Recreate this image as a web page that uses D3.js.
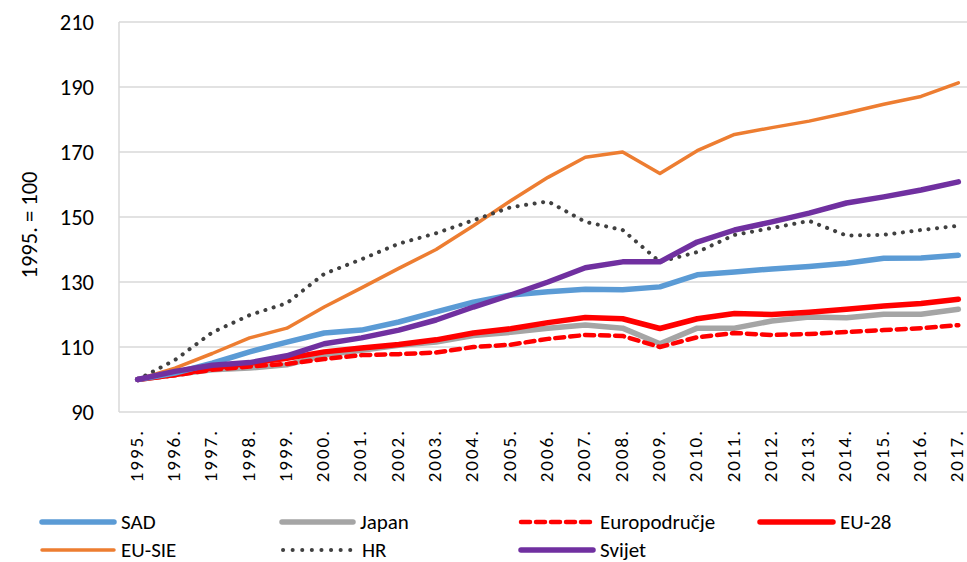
<!DOCTYPE html>
<html>
<head>
<meta charset="utf-8">
<script src="https://cdn.jsdelivr.net/npm/d3@7"></script>
<style>
  body { margin: 0; background: #fff; }
  svg { display: block; }
  text { font-family: Carlito, "Liberation Sans Narrow", "Open Sans", sans-serif; fill: #000; }
</style>
</head>
<body>
<div id="chart"></div>
<script>
let years = ['1995.','1996.','1997.','1998.','1999.','2000.','2001.','2002.','2003.','2004.','2005.','2006.',
             '2007.','2008.','2009.','2010.','2011.','2012.','2013.','2014.','2015.','2016.','2017.'];
let yTicks = [90, 110, 130, 150, 170, 190, 210];

let sad = [100,102,105,108.5,111.5,114.3,115.2,117.7,120.8,123.8,126,127,127.8,127.6,128.5,132.2,133.1,134,134.8,135.8,137.3,137.4,138.2];
let japan = [100,101.5,103,103.5,104.5,107.5,109,110.5,111.5,113.5,114.5,115.8,116.8,115.8,111,115.8,115.8,118,119.2,119,120.1,120.1,121.6];
let europodrucje = [100,101.3,103,104,104.8,106.3,107.5,107.8,108.3,110,110.7,112.5,113.7,113.4,110,113,114.3,113.7,114,114.6,115.2,115.8,116.7];
let eu28 = [100,101.5,103.5,105,106.5,108.5,109.7,110.8,112.2,114.3,115.6,117.5,119.1,118.7,115.7,118.7,120.3,120,120.7,121.6,122.6,123.4,124.7];
let euSie = [100,103.5,108,112.8,115.8,122.3,128.2,134.2,140,147.3,155,162.2,168.4,170,163.4,170.4,175.4,177.5,179.5,182,184.7,187.1,191.3];
let hr = [100,106,114.5,119.8,123.5,132.5,137,141.8,145,149,153,154.8,148.5,146,136.2,139.2,144.5,146.6,148.8,144.3,144.5,146,147.3];
let svijet = [100,102.5,104.4,105.2,107.3,111,112.8,115.2,118.3,122.3,126,130,134.4,136.2,136.2,142.3,146,148.5,151.2,154.3,156.2,158.3,160.8];

let series = [
    {name: 'SAD', values: sad, color: '#5B9BD5', width: 5.5, dash: null},
    {name: 'Japan', values: japan, color: '#A5A5A5', width: 5.5, dash: null},
    {name: 'Europodručje', values: europodrucje, color: '#FF0000', width: 4.5, dash: '9,6'},
    {name: 'EU-28', values: eu28, color: '#FF0000', width: 5.5, dash: null},
    {name: 'EU-SIE', values: euSie, color: '#ED7D31', width: 3.5, dash: null},
    {name: 'HR', values: hr, color: '#404040', width: 4, dash: '0.1,8.5'},
    {name: 'Svijet', values: svijet, color: '#7030A0', width: 5.5, dash: null}
];
// draw order: bottom first
let drawOrder = ['Japan', 'Europodručje', 'EU-28', 'SAD', 'EU-SIE', 'HR', 'Svijet'];

let width = 967, height = 562;
let plotLeft = 119, plotRight = 977, plotTop = 22, plotBottom = 412;

let svg = d3.select('#chart').append('svg')
    .attr('width', width)
    .attr('height', height);

let x = d3.scalePoint().domain(years).range([plotLeft, plotRight]).padding(0.5);
let y = d3.scaleLinear().domain([90, 210]).range([plotBottom, plotTop]);

// gridlines
svg.append('g')
    .selectAll('line')
    .data(yTicks)
    .enter()
    .append('line')
    .attr('x1', plotLeft).attr('x2', width)
    .attr('y1', d => y(d)).attr('y2', d => y(d))
    .attr('stroke', '#D9D9D9')
    .attr('stroke-width', 1.5);

svg.append('line')
    .attr('x1', plotLeft).attr('x2', plotLeft)
    .attr('y1', plotTop).attr('y2', plotBottom)
    .attr('stroke', '#D9D9D9')
    .attr('stroke-width', 1.5);

// y axis labels
svg.append('g')
    .selectAll('text')
    .data(yTicks)
    .enter()
    .append('text')
    .attr('x', 94)
    .attr('y', d => y(d))
    .attr('dy', '0.35em')
    .attr('text-anchor', 'end')
    .style('font-size', '22.5px')
    .text(d => d);

svg.append('text')
    .attr('transform', 'translate(29,225) rotate(-90)')
    .attr('dy', '0.35em')
    .attr('text-anchor', 'middle')
    .style('font-size', '22.5px')
    .text('1995. = 100');

// x axis labels
svg.append('g')
    .selectAll('text')
    .data(years)
    .enter()
    .append('text')
    .attr('transform', d => 'translate(' + (x(d) + 5) + ',' + 429 + ') rotate(-90)')
    .attr('text-anchor', 'end')
    .style('font-size', '19px')
    .style('letter-spacing', '2px')
    .text(d => d);

// lines
let line = d3.line()
    .x((d, i) => x(years[i]))
    .y(d => y(d));

let byName = {};
series.forEach(s => byName[s.name] = s);

svg.append('g')
    .selectAll('path')
    .data(drawOrder.map(n => byName[n]))
    .enter()
    .append('path')
    .attr('d', d => line(d.values))
    .attr('fill', 'none')
    .attr('stroke', d => d.color)
    .attr('stroke-width', d => d.width)
    .attr('stroke-dasharray', d => d.dash)
    .attr('stroke-linecap', 'round')
    .attr('stroke-linejoin', 'round');

// legend
let legendPos = [
    {lx: 42, tx: 121, y: 522},
    {lx: 282, tx: 360, y: 522},
    {lx: 521, tx: 600, y: 522},
    {lx: 760, tx: 840, y: 522},
    {lx: 42, tx: 121, y: 550},
    {lx: 283, tx: 362, y: 550},
    {lx: 521, tx: 600, y: 550}
];

let legend = svg.append('g')
    .selectAll('g')
    .data(series)
    .enter()
    .append('g');

legend.append('line')
    .attr('x1', (d, i) => legendPos[i].lx)
    .attr('x2', (d, i) => legendPos[i].tx - 7)
    .attr('y1', (d, i) => legendPos[i].y)
    .attr('y2', (d, i) => legendPos[i].y)
    .attr('stroke', d => d.color)
    .attr('stroke-width', d => d.width)
    .attr('stroke-dasharray', d => d.name === 'HR' ? '0.1,9.5' : d.dash)
    .attr('stroke-linecap', 'round');

legend.append('text')
    .attr('x', (d, i) => legendPos[i].tx)
    .attr('y', (d, i) => legendPos[i].y)
    .attr('dy', '0.35em')
    .style('font-size', '21px')
    .text(d => d.name);
</script>
</body>
</html>
